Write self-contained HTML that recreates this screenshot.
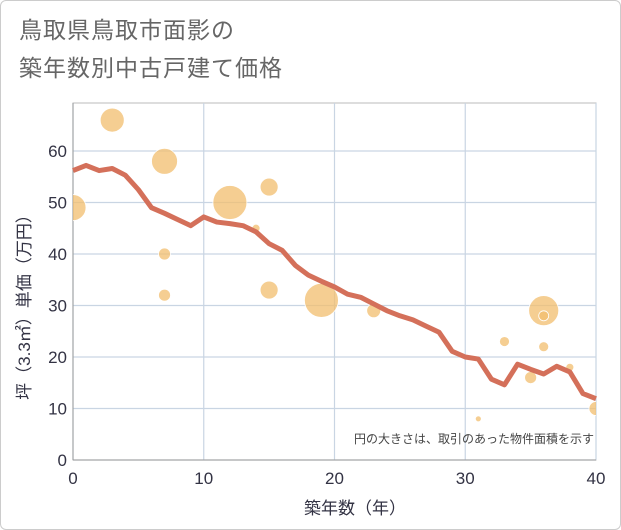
<!DOCTYPE html>
<html><head><meta charset="utf-8"><style>
body{margin:0;background:#fff;}
#card{position:absolute;left:0;top:0;width:619px;height:528px;border:1px solid #ccc;border-radius:6px;background:#fff;}
.t{position:absolute;left:18px;font-family:"Liberation Sans","Noto Sans CJK JP",sans-serif;font-size:23px;letter-spacing:1px;color:#666;}
svg text{font-family:"Liberation Sans","Noto Sans CJK JP",sans-serif;}
</style></head><body>
<div id="card">
<div class="t" style="top:10px">鳥取県鳥取市面影の</div>
<div class="t" style="top:48px">築年数別中古戸建て価格</div>
</div>
<svg id="chart" width="621" height="530" style="position:absolute;left:0;top:0"></svg>
<script>
const xTicks=[0,10,20,30,40];
const yTicks=[0,10,20,30,40,50,60];
const lineYears=[0,1,2,3,4,5,6,7,8,9,10,11,12,13,14,15,16,17,18,19,20,21,22,23,24,25,26,27,28,29,30,31,32,33,34,35,36,37,38,39,40];
const linePrices=[56.2,57.2,56.2,56.6,55.3,52.5,49,47.9,46.7,45.5,47.2,46.2,45.9,45.5,44.3,42,40.7,37.8,35.9,34.7,33.6,32.2,31.6,30.3,29,28,27.2,26,24.8,21.1,20,19.6,15.7,14.6,18.6,17.6,16.7,18.2,17.1,12.9,11.9];
const bubbleYears=[0,3,7,7,7,12,14,15,15,19,23,31,33,35,36,36,36,38,40];
const bubblePrices=[49,66,58,40,32,50,45,53,33,31,29,8,23,16,29,28,22,18,10];
const bubbleSizes=[13,12,13,6,6,17,4,9,9,17,7,3,5,6,15,5,5,4,7];
const NS='http://www.w3.org/2000/svg';
const svg=document.getElementById('chart');
const X0=73,X1=596,Y0=460,YT=103;
const xs=v=>X0+(v/40)*(X1-X0);
const ys=v=>Y0-v*(Y0-151)/60;
function mk(t,a){const e=document.createElementNS(NS,t);for(const k in a)e.setAttribute(k,a[k]);svg.appendChild(e);return e;}
let g;
g=mk('rect',{x:X0,y:YT,width:X1-X0,height:Y0-YT,fill:'#fff',stroke:'#bbb'});


yTicks.forEach(v=>{
 const l=mk('line',{x1:X0,x2:X1,y1:ys(v),y2:ys(v),stroke:'#c9d5e3','stroke-width':1.2});
 
 
 const t=mk('text',{x:X0-6,y:ys(v)+6,'text-anchor':'end','font-size':17,fill:'#334'});t.textContent=v;
 
 
});
xTicks.forEach(v=>{
 const l=mk('line',{x1:xs(v),x2:xs(v),y1:YT,y2:Y0,stroke:'#c9d5e3','stroke-width':1.2});
 
 
 const t=mk('text',{x:xs(v),y:Y0+24,'text-anchor':'middle','font-size':17,fill:'#334'});t.textContent=v;
 
 
});
g=mk('line',{x1:X0,x2:X0,y1:YT,y2:Y0,stroke:'#999'});


g=mk('line',{x1:X0,x2:X1,y1:Y0,y2:Y0,stroke:'#999'});


const cg=document.createElementNS(NS,'g');cg.setAttribute('clip-path','url(#clip)');
const defs=mk('defs',{});defs.innerHTML='<clipPath id="clip"><rect x="'+X0+'" y="'+YT+'" width="'+(X1-X0)+'" height="'+(Y0-YT)+'"/></clipPath>';
svg.appendChild(cg);
bubbleYears.forEach((yr,i)=>{
 const c=document.createElementNS(NS,'circle');
 c.setAttribute('cx',xs(yr));c.setAttribute('cy',ys(bubblePrices[i]));c.setAttribute('r',bubbleSizes[i]);
 c.setAttribute('fill','rgba(242,190,110,0.75)');c.setAttribute('stroke','#fff');c.setAttribute('stroke-width',0.8);
 
 
 cg.appendChild(c);
});
const pts=lineYears.map((yr,i)=>xs(yr)+','+ys(linePrices[i])).join(' ');
g=mk('polyline',{points:pts,fill:'none',stroke:'#d4705a','stroke-width':5,'stroke-linejoin':'round'});


g=mk('text',{x:594,y:443,'text-anchor':'end','font-size':12,fill:'#444'});g.textContent='円の大きさは、取引のあった物件面積を示す';


g=mk('text',{x:355,y:514,'text-anchor':'middle','font-size':17,fill:'#334'});g.textContent='築年数（年）';


g=mk('text',{x:0,y:0,'text-anchor':'middle','font-size':17,fill:'#334',transform:'translate(30,303) rotate(-90)'});g.textContent='坪（3.3㎡）単価（万円）';


</script>
</body></html>
